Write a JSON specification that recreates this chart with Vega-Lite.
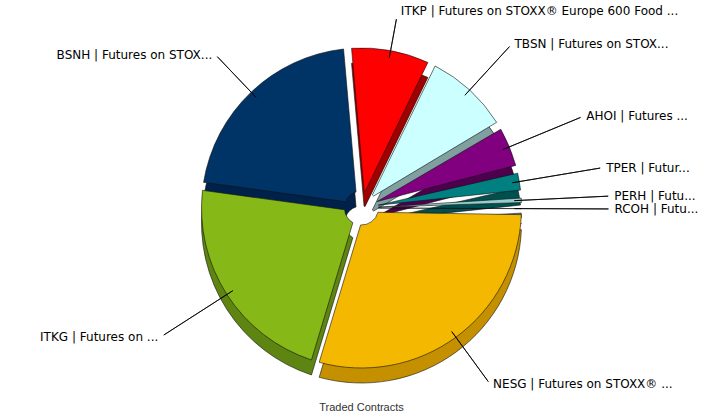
{
  "$schema": "https://vega.github.io/schema/vega-lite/v6.json",
  "width": 723,
  "height": 416,
  "autosize": "none",
  "padding": 0,
  "background": "white",
  "title": {"text": "Traded Contracts", "orient": "bottom", "frame": "group", "offset": -14, "font": "Liberation Sans", "fontSize": 11, "fontWeight": "normal", "color": "#333333", "anchor": "middle"},
  "data": {"values": [
    {"code": "ITKP", "label": "ITKP | Futures on STOXX® Europe 600 Food ...", "contracts": 8.6, "order": 1},
    {"code": "TBSN", "label": "TBSN | Futures on STOX...", "contracts": 9.2, "order": 2},
    {"code": "AHOI", "label": "AHOI | Futures ...", "contracts": 4.7, "order": 3},
    {"code": "TPER", "label": "TPER | Futur...", "contracts": 2.5, "order": 4},
    {"code": "PERH", "label": "PERH | Futu...", "contracts": 1.25, "order": 5},
    {"code": "RCOH", "label": "RCOH | Futu...", "contracts": 0.4, "order": 6},
    {"code": "NESG", "label": "NESG | Futures on STOXX® ...", "contracts": 29.4, "order": 7},
    {"code": "ITKG", "label": "ITKG | Futures on ...", "contracts": 22.5, "order": 8},
    {"code": "BSNH", "label": "BSNH | Futures on STOX...", "contracts": 21.45, "order": 9}
  ]},
  "encoding": {
    "theta": {"field": "contracts", "type": "quantitative", "stack": true, "scale": {"range": [-0.0873, 6.1959]}},
    "order": {"field": "order", "type": "quantitative"}
  },
  "layer": [
    {
      "mark": {"type": "arc", "yOffset": 15, "innerRadius": 17, "outerRadius": 160, "padAngle": 0.05, "stroke": "#111111", "strokeWidth": 0.6},
      "encoding": {"color": {"field": "code", "type": "nominal", "legend": null, "scale": {"domain": ["ITKP", "TBSN", "AHOI", "TPER", "PERH", "RCOH", "NESG", "ITKG", "BSNH"], "range": ["#A00000", "#80A0A0", "#4D004D", "#005050", "#6E9494", "#7A7A60", "#C49000", "#5E8412", "#00224A"]}}}
    },
    {
      "mark": {"type": "arc", "innerRadius": 17, "outerRadius": 160, "padAngle": 0.05, "stroke": "#111111", "strokeWidth": 0.6},
      "encoding": {"color": {"field": "code", "type": "nominal", "legend": null, "scale": {"domain": ["ITKP", "TBSN", "AHOI", "TPER", "PERH", "RCOH", "NESG", "ITKG", "BSNH"], "range": ["#FF0000", "#CCFFFF", "#800080", "#008080", "#99CCCC", "#A3A385", "#F5B800", "#86B818", "#003366"]}}}
    },
    {
      "mark": {"type": "arc", "filled": false, "color": "#000000", "strokeWidth": 0.8, "padAngle": 3.1, "innerRadius": 153,
        "outerRadius": {"expr": "[192,219,237,242,247,247,215,235,209][indexof(['ITKP','TBSN','AHOI','TPER','PERH','RCOH','NESG','ITKG','BSNH'], datum.code)]"}},
      "encoding": {"detail": {"field": "code", "type": "nominal"}}
    },
    {
      "mark": {"type": "text", "font": "DejaVu Sans", "fontSize": 12, "color": "#000000", "baseline": "middle",
        "radius": {"expr": "[200,222,240,245,250,250,218,238,212][indexof(['ITKP','TBSN','AHOI','TPER','PERH','RCOH','NESG','ITKG','BSNH'], datum.code)]"},
        "align": {"expr": "(datum.code == 'ITKG' || datum.code == 'BSNH') ? 'right' : 'left'"},
        "dx": {"expr": "(datum.code == 'ITKG' || datum.code == 'BSNH') ? -3 : 3"}},
      "encoding": {"text": {"field": "label", "type": "nominal"}, "detail": {"field": "code", "type": "nominal"}}
    }
  ],
  "resolve": {"scale": {"color": "independent"}}
}
